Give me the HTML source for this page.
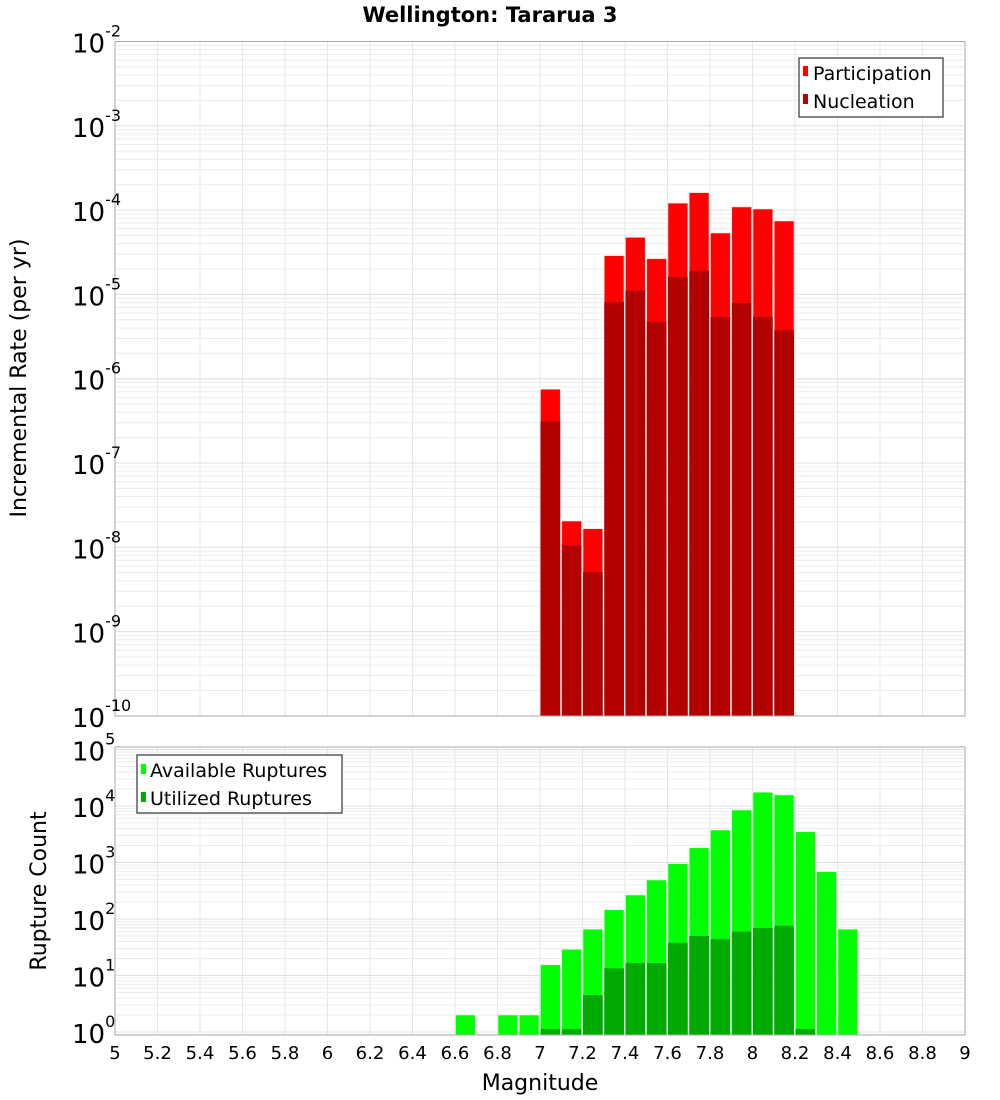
<!DOCTYPE html>
<html><head><meta charset="utf-8"><style>
html,body{margin:0;padding:0;background:#fff;}
svg{display:block;font-family:"DejaVu Sans","Liberation Sans",sans-serif;}
</style></head><body>
<svg id="chart" width="1000" height="1100" viewBox="0 0 1000 1100"></svg>
<script>
const magnitudes = [6.6,6.7,6.8,6.9,7.0,7.1,7.2,7.3,7.4,7.5,7.6,7.7,7.8,7.9,8.0,8.1,8.2,8.3,8.4];
const rateMags = [7.0,7.1,7.2,7.3,7.4,7.5,7.6,7.7,7.8,7.9,8.0,8.1];
const participation = [7.5e-7,2.05e-8,1.66e-8,2.88e-5,4.75e-5,2.65e-5,1.21e-4,1.61e-4,5.35e-5,1.09e-4,1.03e-4,7.43e-5];
const nucleation = [3.13e-7,1.06e-8,5.1e-9,8.1e-6,1.11e-5,4.74e-6,1.61e-5,1.91e-5,5.4e-6,7.9e-6,5.4e-6,3.75e-6];
const available = [2,0,2,2,15.5,29,66,146,266,490,955,1820,3760,8500,17500,15700,3500,687,66];
const utilized = [0,0,0,0,1,1,4.5,13.4,16.6,16.6,38,50,44,60,69,76,1,0,0];
const xTicks = [5,5.2,5.4,5.6,5.8,6,6.2,6.4,6.6,6.8,7,7.2,7.4,7.6,7.8,8,8.2,8.4,8.6,8.8,9];
const topDecades = [-2,-3,-4,-5,-6,-7,-8,-9,-10];
const botDecades = [5,4,3,2,1,0];

const NS="http://www.w3.org/2000/svg";
const svg=document.getElementById('chart');
function mk(tag,attrs,parent){const e=document.createElementNS(NS,tag);for(const k in attrs)e.setAttribute(k,attrs[k]);(parent||svg).appendChild(e);return e;}
const L=115,R=965;
const xS=m=>L+(m-5)*(R-L)/4;
const bw=(R-L)/40;
const top1=41.5,bot1=716,dec1=84.3;
const yTop=v=>top1+(-2-Math.log10(v))*dec1;
const top2=747,bot2=1035,dec2=56.5;
const yBot=v=>1032-Math.log10(v)*dec2;

function panel(name,t,b,decs,yf){
  const g=mk('g',{},svg);
  xTicks.forEach(m=>{mk('line',{x1:xS(m),x2:xS(m),y1:t,y2:b,stroke:'#e6e6e6','stroke-width':1},g);});
  decs.forEach(d=>{for(let k=1;k<10;k++){const y=yf(k*Math.pow(10,d));if(y>=t&&y<=b)mk('line',{x1:L,x2:R,y1:y,y2:y,stroke:k==1?'#e0e0e0':'#ececec','stroke-width':1},g);}});
}
panel('top',top1,bot1,[-10,-9,-8,-7,-6,-5,-4,-3,-2],yTop);
panel('bottom',top2,bot2,[-1,0,1,2,3,4,5],yBot);

// top bars
rateMags.forEach((m,i)=>{
  const x=xS(m)+0.5,w=bw-1.5;
  let y=yTop(participation[i]);
  const r=mk('rect',{x:x,y:y,width:w,height:bot1-y,fill:'#ff0000',stroke:'#ffd0d0','stroke-width':0.6});
  
  y=yTop(nucleation[i]);
  const n=mk('rect',{x:x,y:y,width:w,height:bot1-y,fill:'#b30000'});
  
});
// bottom bars
magnitudes.forEach((m,i)=>{
  const x=xS(m)+0.5,w=bw-1.5;
  if(available[i]>0){const y=yBot(available[i]);
    const r=mk('rect',{x:x,y:y,width:w,height:bot2-y,fill:'#00ff00',stroke:'#d0ffd0','stroke-width':0.6});
    }
  if(utilized[i]>0){const y=Math.min(yBot(utilized[i]),bot2-6);
    const r=mk('rect',{x:x,y:y,width:w,height:bot2-y,fill:'#00aa00'});
    }
});
// frames
let f=mk('rect',{x:L,y:top1,width:R-L,height:bot1-top1,fill:'none',stroke:'#aaaaaa'});

f=mk('rect',{x:L,y:top2,width:R-L,height:bot2-top2,fill:'none',stroke:'#aaaaaa'});


// y tick labels
function ylab(d,y,nm){
  const t=mk('text',{x:72,y:y+11,'font-size':26,fill:'#000'});
  
  t.textContent='10';
  const s=mk('tspan',{dy:-16,'font-size':16},t);s.textContent=String(d);
}
topDecades.forEach(d=>ylab(d,yTop(Math.pow(10,d)),'y-tick-label'));
botDecades.forEach(d=>ylab(d,yBot(Math.pow(10,d)),'y-tick-label'));
// x tick labels
xTicks.forEach(m=>{
  const t=mk('text',{x:xS(m),y:1059,'font-size':18,'text-anchor':'middle',fill:'#000'});
  
  t.textContent=String(m);
});
</script>
<svg width="0" height="0"></svg>
<div style="position:absolute;left:0;top:0;width:1000px;height:1100px;pointer-events:none">
<svg width="1000" height="1100" style="font-family:'DejaVu Sans','Liberation Sans',sans-serif">
<text x="490" y="22" font-size="21" font-weight="bold" text-anchor="middle">Wellington: Tararua 3</text>
<text transform="translate(26,378) rotate(-90)" font-size="22" text-anchor="middle">Incremental Rate (per yr)</text>
<text transform="translate(46,891) rotate(-90)" font-size="22" text-anchor="middle">Rupture Count</text>
<text x="540" y="1090" font-size="22" text-anchor="middle">Magnitude</text>
<g>
<rect x="799" y="58" width="144" height="59" fill="#fff" stroke="#333" stroke-width="1.2"/>
<rect x="803" y="66" width="5" height="10" fill="#ff0000"/>
<text x="813" y="80" font-size="19">Participation</text>
<rect x="803" y="94" width="5" height="10" fill="#b30000"/>
<text x="813" y="108" font-size="19">Nucleation</text>
</g>
<g>
<rect x="137" y="755" width="205" height="58" fill="#fff" stroke="#333" stroke-width="1.2"/>
<rect x="141" y="764" width="5" height="10" fill="#00ff00"/>
<text x="150" y="777" font-size="19">Available Ruptures</text>
<rect x="141" y="792" width="5" height="10" fill="#00aa00"/>
<text x="150" y="805" font-size="19">Utilized Ruptures</text>
</g>
</svg>
</div>
</body></html>
